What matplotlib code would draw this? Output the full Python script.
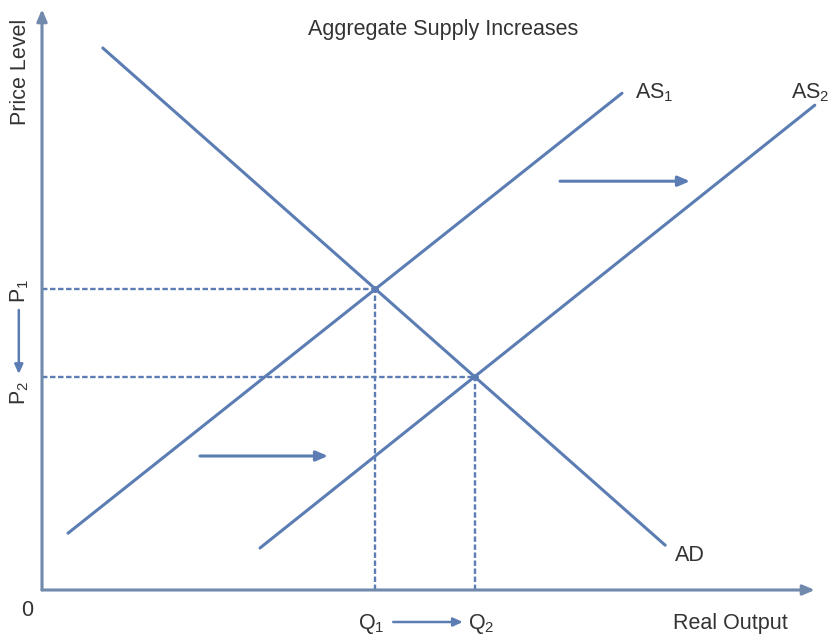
import matplotlib
matplotlib.use('Agg')
import matplotlib.pyplot as plt
import numpy as np

plt.rcParams['font.family'] = ['Liberation Sans', 'DejaVu Sans']
plt.rcParams['mathtext.fontset'] = 'custom'
plt.rcParams['mathtext.rm'] = 'Liberation Sans'
plt.rcParams['mathtext.default'] = 'regular'

# curve end points (economic units, origin at the corner of the axes)
ad_x = [7.6, 77.9]
ad_y = [67.75, 5.6]
as1_x = [3.25, 72.5]
as1_y = [7.1, 62.1]
as2_x = [27.25, 96.6]
as2_y = [5.25, 60.6]

title = 'Aggregate Supply Increases'
line_col = '#5b7db3'
axis_col = '#7189ad'
text_col = '#333333'


def line_coef(xs, ys):
    m = (ys[1] - ys[0]) / (xs[1] - xs[0])
    return m, ys[0] - m * xs[0]


def cross(a, b):
    m1, c1 = line_coef(*a)
    m2, c2 = line_coef(*b)
    x = (c2 - c1) / (m1 - m2)
    return x, m1 * x + c1


fig = plt.figure(figsize=(8.38, 6.37), dpi=100)
ax = fig.add_axes([0, 0, 1, 1])
ax.set_xlim(-5.25, 99.5)
ax.set_ylim(-5.875, 73.75)
ax.axis('off')

# axes with arrows
arr = dict(arrowstyle='-|>,head_length=0.7,head_width=0.3', color=axis_col, lw=2.2, shrinkA=0, shrinkB=0)
ax.annotate('', xy=(0, 72.6), xytext=(0, 0), arrowprops=arr)
ax.annotate('', xy=(96.6, 0), xytext=(0, 0), arrowprops=arr)

for xs, ys in [(ad_x, ad_y), (as1_x, as1_y), (as2_x, as2_y)]:
    ax.plot(xs, ys, color=line_col, lw=2.2, solid_capstyle='round')

# equilibrium points and dashed guides
e1 = cross((as1_x, as1_y), (ad_x, ad_y))
e2 = cross((as2_x, as2_y), (ad_x, ad_y))
for ex, ey in [e1, e2]:
    ax.plot([0, ex], [ey, ey], color=line_col, lw=1.7, dashes=(2.3, 1.1))
    ax.plot([ex, ex], [0, ey], color=line_col, lw=1.7, dashes=(2.3, 1.1))
    ax.plot([ex], [ey], 'o', color=line_col, ms=4)

# shift arrows
sarr = dict(arrowstyle='-|>,head_length=0.7,head_width=0.3', color=line_col, lw=2.2, shrinkA=0, shrinkB=0)
ax.annotate('', xy=(81.0, 51.1), xytext=(64.75, 51.1), arrowprops=sarr)
ax.annotate('', xy=(35.75, 16.75), xytext=(19.75, 16.75), arrowprops=sarr)
small = dict(arrowstyle='-|>,head_length=0.55,head_width=0.25', color=line_col, lw=1.8, shrinkA=0, shrinkB=0)
ax.annotate('', xy=(52.6, -4.0), xytext=(43.9, -4.0), arrowprops=small)
ax.annotate('', xy=(-2.9, 27.0), xytext=(-2.9, 35.0), arrowprops=small)

fs = 15.5
kw = dict(fontsize=fs, color=text_col)
ax.text(50.1, 70.0, title, ha='center', va='center', **kw)
ax.text(-2.75, 64.8, 'Price Level', rotation=90, ha='center', va='center', **kw)
ax.text(-2.75, 37.4, 'P$_1$', rotation=90, ha='center', va='center', **kw)
ax.text(-2.75, 24.6, 'P$_2$', rotation=90, ha='center', va='center', **kw)
ax.text(-1.9, -2.5, '0', ha='center', va='center', **kw)
ax.text(e1[0] - 0.5, -4.2, 'Q$_1$', ha='center', va='center', **kw)
ax.text(e2[0] + 0.8, -4.2, 'Q$_2$', ha='center', va='center', **kw)
ax.text(93.2, -4.2, 'Real Output', ha='right', va='center', **kw)
ax.text(74.1, 62.2, 'AS$_1$', ha='left', va='center', **kw)
ax.text(93.6, 62.2, 'AS$_2$', ha='left', va='center', **kw)
ax.text(79.1, 4.3, 'AD', ha='left', va='center', **kw)

fig.savefig('out.png', dpi=100)
